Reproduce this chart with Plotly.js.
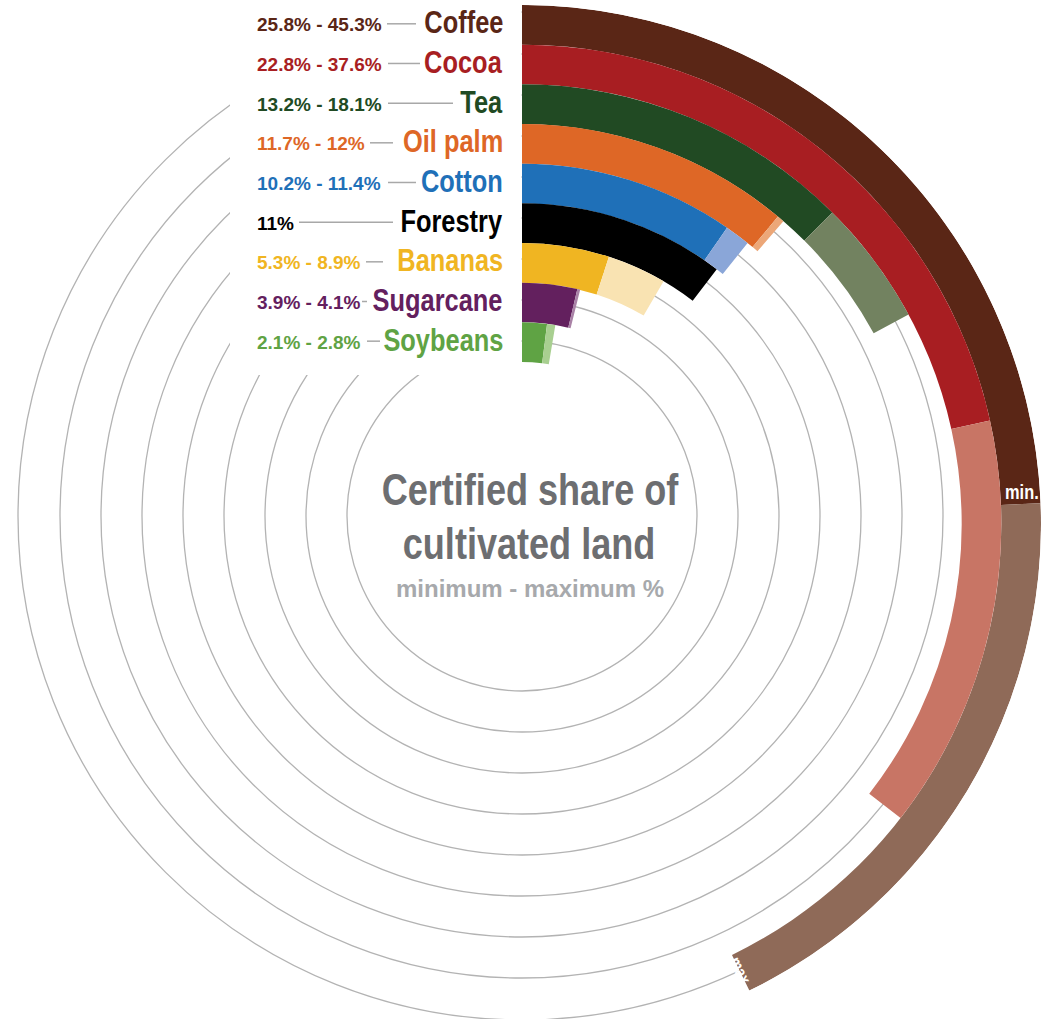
<!DOCTYPE html>
<html>
<head>
<meta charset="utf-8">
<script src="https://cdn.plot.ly/plotly-3.0.1.min.js"></script>
<style>
html,body{margin:0;padding:0;overflow:hidden;background:#fff;}
#chart{width:1050px;height:1050px;}
</style>
</head>
<body>
<div id="chart"></div>
<script>
// ---- data ----
const crops = ['Coffee','Cocoa','Tea','Oil palm','Cotton','Forestry','Bananas','Sugarcane','Soybeans'];
const minPct = [25.8, 22.8, 13.2, 11.7, 10.2, 11, 5.3, 3.9, 2.1];
const maxPct = [45.3, 37.6, 18.1, 12, 11.4, 11, 8.9, 4.1, 2.8];
const darkColors  = ['#5a2616','#a81e22','#214a23','#de6726','#1f70b8','#000000','#f0b522','#63205e','#5fa344'];
const lightColors = ['#8f6a58','#c87565','#728260','#eca778','#8aa6d8','#000000','#f9e3b2','#a982a6','#a8cf90'];
const rangeLabels = minPct.map((v,i)=> v===maxPct[i] ? v+'%' : v+'% - '+maxPct[i]+'%');

// ---- layout constants ----
const W = 1050, H = 1050;
const K = 3.4;                 // degrees per percent
const BAR_CX = 522, BAR_CY = 524, BAR_R = 519, INNER = 162, RING = 39.67;
const GRID_CX = 522, GRID_CY = 516, GRID_R = 510;
const gridRadii = [175, 216, 257, 298, 339, 380, 421, 462, 504];
const connectors = [[387,416],[388,420],[388,453],[370,393],[388,416],[299,393],[366,383],[362,367],[367,380]];
const N = crops.length;
const FONT = 'Liberation Sans, Arial, sans-serif';
const NARROW = 0.82;

const px = x => x / W;
const py = y => 1 - y / H;
const ringBase = crops.map((c,i)=> INNER + (N-1-i)*RING);
const rowY = crops.map((c,i)=> BAR_CY - (ringBase[i] + RING/2));

const traces = [
  {type:'scatterpolar', subplot:'polar', r:[], theta:[], mode:'markers', hoverinfo:'skip', showlegend:false},
  {type:'barpolar', subplot:'polar2', name:'minimum',
   r: crops.map(()=>RING), base: ringBase,
   theta: minPct.map(v=>v*K/2), width: minPct.map(v=>v*K),
   marker:{color:darkColors, line:{width:0}}, hoverinfo:'skip', showlegend:false},
  {type:'barpolar', subplot:'polar2', name:'maximum',
   r: crops.map(()=>RING), base: ringBase,
   theta: minPct.map((v,i)=>(v+maxPct[i])*K/2), width: minPct.map((v,i)=>(maxPct[i]-v)*K),
   marker:{color:lightColors, line:{width:0}}, hoverinfo:'skip', showlegend:false}
];

const annotations = [];
const narrowOrigin = {};   // annotation index -> transform origin for condensed look
function addAnn(a, origin){ if(origin) narrowOrigin[annotations.length] = origin; annotations.push(a); }

const shapes = [{type:'rect', xref:'paper', yref:'paper', layer:'above',
  x0:px(230), x1:px(521.5), y0:py(375), y1:py(0), fillcolor:'#ffffff', line:{width:0}}];

crops.forEach((c,i)=>{
  addAnn({xref:'paper', yref:'paper', x:px(505), y:py(rowY[i]-2), xanchor:'right', yanchor:'middle',
    text:'<b>'+c+'</b>', showarrow:false, font:{family:FONT, size:31, color:darkColors[i]}}, 'right center');
  addAnn({xref:'paper', yref:'paper', x:px(255), y:py(rowY[i]), xanchor:'left', yanchor:'middle',
    text:'<b>'+rangeLabels[i]+'</b>', showarrow:false, font:{family:FONT, size:19, color:darkColors[i]}});
  shapes.push({type:'line', xref:'paper', yref:'paper', layer:'above',
    x0:px(connectors[i][0]), x1:px(connectors[i][1]), y0:py(rowY[i]-1), y1:py(rowY[i]-1),
    line:{color:'#a8a8a8', width:1.5}});
});

// min / max markers on the outer ring
const tMin = minPct[0]*K*Math.PI/180, tMax = maxPct[0]*K*Math.PI/180;
const rIn = ringBase[0] + 2, rMid = ringBase[0] + RING/2;
addAnn({xref:'paper', yref:'paper', x:px(BAR_CX + rIn*Math.sin(tMin)), y:py(BAR_CY - rIn*Math.cos(tMin)),
  xanchor:'left', yanchor:'bottom', text:'<b>min.</b>', showarrow:false,
  font:{family:FONT, size:20, color:'#ffffff'}}, 'left center');
addAnn({xref:'paper', yref:'paper', x:px(BAR_CX + rMid*Math.sin(tMax)), y:py(BAR_CY - rMid*Math.cos(tMax)),
  xanchor:'center', yanchor:'middle', textangle: maxPct[0]*K - 90, text:'<b>max.</b>', showarrow:false,
  font:{family:FONT, size:17, color:'#ffffff'}}, 'center');

// centre title
addAnn({xref:'paper', yref:'paper', x:px(530), y:py(489), xanchor:'center', yanchor:'middle',
  text:'<b>Certified share of</b>', showarrow:false, font:{family:FONT, size:44, color:'#6d6e71'}}, 'center');
addAnn({xref:'paper', yref:'paper', x:px(529), y:py(543), xanchor:'center', yanchor:'middle',
  text:'<b>cultivated land</b>', showarrow:false, font:{family:FONT, size:44, color:'#6d6e71'}}, 'center');
addAnn({xref:'paper', yref:'paper', x:px(530), y:py(588), xanchor:'center', yanchor:'middle',
  text:'<b>minimum - maximum %</b>', showarrow:false, font:{family:FONT, size:24, color:'#a7a9ac'}});

const hiddenAng = {showgrid:false, showline:false, showticklabels:false, ticks:''};
const layout = {
  width: W, height: H,
  margin:{l:0,r:0,t:0,b:0,pad:0},
  paper_bgcolor:'#ffffff', plot_bgcolor:'#ffffff',
  showlegend:false,
  polar:{
    domain:{x:[px(GRID_CX-GRID_R), px(GRID_CX+GRID_R)], y:[py(GRID_CY+GRID_R), py(GRID_CY-GRID_R)]},
    bgcolor:'rgba(0,0,0,0)',
    radialaxis:{range:[0,GRID_R], autorange:false, tickmode:'array', tickvals:gridRadii,
      showgrid:true, gridcolor:'#b3b3b3', gridwidth:1.3, showline:false, showticklabels:false, ticks:''},
    angularaxis: Object.assign({rotation:90, direction:'clockwise'}, hiddenAng)
  },
  polar2:{
    domain:{x:[px(BAR_CX-BAR_R), px(BAR_CX+BAR_R)], y:[py(BAR_CY+BAR_R), py(BAR_CY-BAR_R)]},
    bgcolor:'rgba(0,0,0,0)',
    radialaxis:{range:[0,BAR_R], autorange:false, showgrid:false, showline:false, showticklabels:false, ticks:''},
    angularaxis: Object.assign({rotation:90, direction:'clockwise'}, hiddenAng)
  },
  shapes: shapes,
  annotations: annotations
};

Plotly.newPlot('chart', traces, layout, {displayModeBar:false, staticPlot:true}).then(gd=>{
  // condensed type: squeeze the chosen annotation texts horizontally
  gd.querySelectorAll('g.annotation').forEach(g=>{
    const idx = g.getAttribute('data-index');
    const origin = narrowOrigin[idx];
    if(!origin) return;
    const t = g.querySelector('text.annotation-text');
    if(!t) return;
    t.style.transformBox = 'fill-box';
    t.style.transformOrigin = origin;
    t.style.transform = 'scaleX(' + NARROW + ')';
  });
});
</script>
</body>
</html>
